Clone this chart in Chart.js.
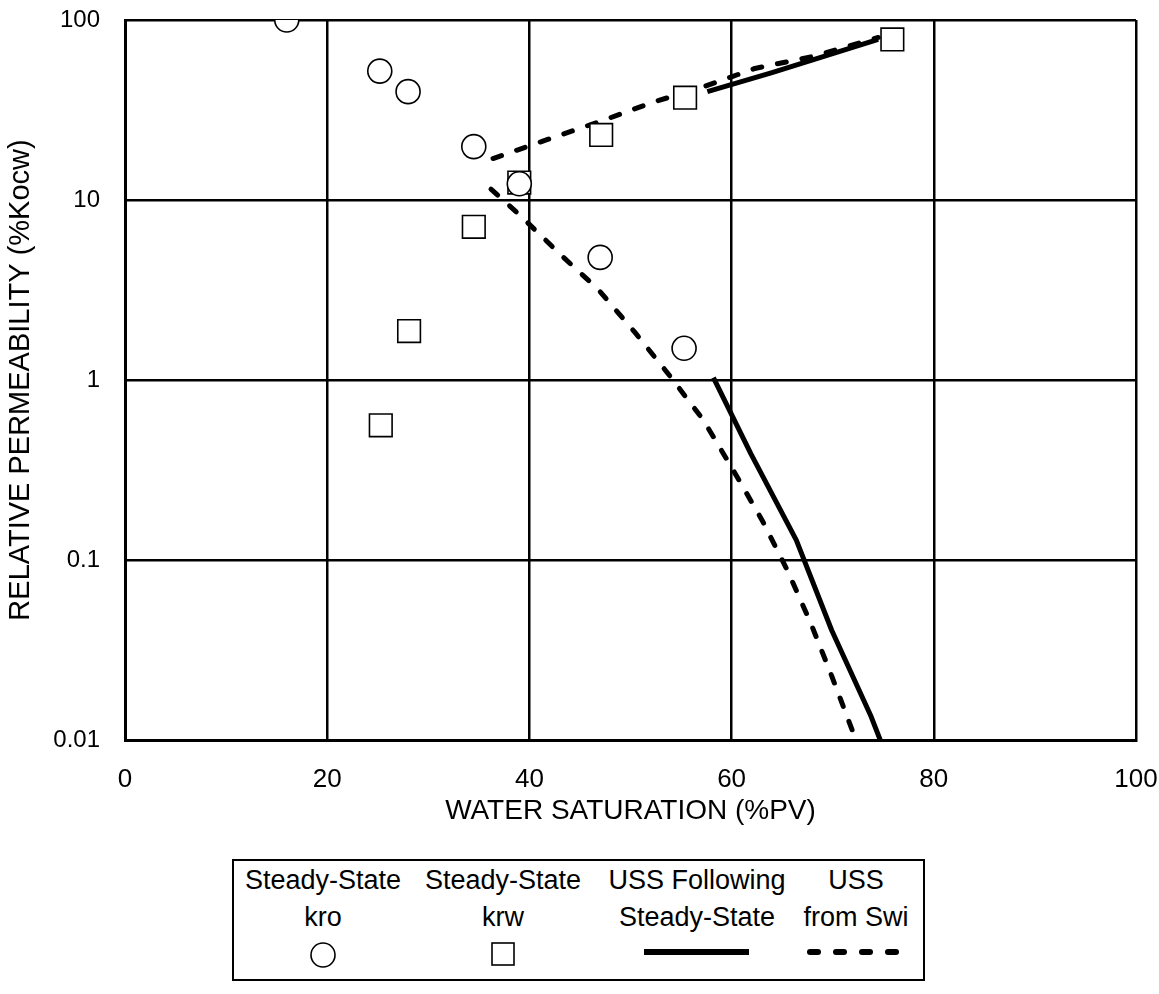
<!DOCTYPE html>
<html>
<head>
<meta charset="utf-8">
<title>Relative Permeability</title>
<script src="https://cdn.jsdelivr.net/npm/chart.js@4.4.1/dist/chart.umd.min.js"></script>
<style>
  html, body { margin: 0; padding: 0; background: #fff; }
  #wrap { position: relative; width: 1159px; height: 994px; font-family: "Liberation Sans", Arial, sans-serif; color: #000; }
  #chartBox { position: absolute; left: 0; top: 0; width: 1159px; height: 840px; }
  #legendBox { position: absolute; left: 232px; top: 859px; width: 693px; height: 122px; border: 2px solid #000; box-sizing: border-box; }
  .lg { position: absolute; width: 200px; text-align: center; font-size: 27px; line-height: 32px; white-space: nowrap; }
  .sym { position: absolute; }
</style>
</head>
<body>
<div id="wrap">
  <div id="chartBox"><canvas id="relPermChart" width="1159" height="840"></canvas></div>
  <div id="legendBox"></div>
  <div id="legendItems"></div>
</div>
<script>
// axis ticks
const xTicks = [0, 20, 40, 60, 80, 100];
const yTicks = [0.01, 0.1, 1, 10, 100];

// steady-state measurements (water saturation %PV, rel. perm %Kocw)
const kroSw = [16, 25.2, 28, 34.5, 39, 47, 55.3];
const kroSS = [100, 52, 40, 19.8, 12.3, 4.8, 1.5];
const krwSw = [25.3, 28.1, 34.5, 39, 47.1, 55.4, 75.9];
const krwSS = [0.56, 1.87, 7.1, 12.5, 23, 37, 78];

// unsteady-state following steady-state (solid)
const ussFollowKrwSw = [57.6, 64.0, 74.5];
const ussFollowKrw = [40, 51, 78];
const ussFollowKroSw = [58.2, 61.9, 66.4, 69.9, 73.8, 74.7];
const ussFollowKro = [1.03, 0.39, 0.129, 0.0407, 0.0135, 0.01];

// unsteady-state from Swi (dashed)
const ussSwiKrwSw = [36.4, 41.8, 47.3, 52.2, 57.3, 62.3, 68.2, 74.5];
const ussSwiKrw = [17, 21.7, 27.7, 34.9, 42.7, 53.8, 63, 80];
const ussSwiKroSw = [36.2, 38.9, 43.2, 46.8, 50.4, 53.8, 57.2, 60.1, 63.0, 65.5, 67.8, 69.9, 72.3];
const ussSwiKro = [11.5, 8.4, 4.9, 3.19, 1.85, 1.07, 0.60, 0.32, 0.167, 0.088, 0.045, 0.0227, 0.01];

const FONT = '"Liberation Sans", Arial, sans-serif';

function pairs(xs, ys) {
  return xs.map((x, i) => ({ x: x, y: ys[i] }));
}

function lineSet(label, xs, ys, dashed) {
  return {
    label: label,
    data: pairs(xs, ys),
    showLine: true,
    borderColor: '#000',
    borderWidth: 5,
    borderDash: dashed ? [9, 16] : [],
    borderCapStyle: dashed ? 'round' : 'butt',
    borderJoinStyle: 'round',
    pointRadius: 0,
    tension: 0,
    order: 3
  };
}

// drop the label overhang padding so the plot box sits where we want it
function noOverhang(scale) {
  scale.paddingTop = 0;
  scale.paddingBottom = 0;
  scale.paddingLeft = 0;
  scale.paddingRight = 0;
}

new Chart(document.getElementById('relPermChart'), {
  type: 'scatter',
  data: {
    datasets: [
      {
        label: 'Steady-State kro',
        data: pairs(kroSw, kroSS),
        pointStyle: 'circle',
        pointRadius: 12,
        pointBorderWidth: 1.6,
        pointBorderColor: '#000',
        pointBackgroundColor: '#fff',
        order: 1
      },
      {
        label: 'Steady-State krw',
        data: pairs(krwSw, krwSS),
        pointStyle: 'rect',
        pointRadius: 16,
        pointBorderWidth: 1.6,
        pointBorderColor: '#000',
        pointBackgroundColor: '#fff',
        order: 2
      },
      lineSet('USS Following Steady-State', ussFollowKrwSw, ussFollowKrw, false),
      lineSet('USS Following Steady-State', ussFollowKroSw, ussFollowKro, false),
      lineSet('USS from Swi', ussSwiKrwSw, ussSwiKrw, true),
      lineSet('USS from Swi', ussSwiKroSw, ussSwiKro, true)
    ]
  },
  options: {
    responsive: false,
    animation: false,
    devicePixelRatio: 1,
    layout: { padding: { left: 4, top: 20, right: 23, bottom: 0 } },
    plugins: {
      legend: { display: false },
      tooltip: { enabled: false }
    },
    scales: {
      x: {
        type: 'linear',
        min: 0,
        max: 100,
        afterBuildTicks: (scale) => { scale.ticks = xTicks.map(v => ({ value: v })); },
        afterFit: (scale) => { scale.height = 100; noOverhang(scale); },
        grid: { color: '#000', lineWidth: 2.5, drawTicks: false },
        border: { color: '#000', width: 3 },
        ticks: { color: '#000', padding: 24, font: { family: FONT, size: 26 }, maxRotation: 0 },
        title: {
          display: true,
          text: 'WATER SATURATION (%PV)',
          color: '#000',
          font: { family: FONT, size: 28 },
          padding: { top: 0, bottom: 12 }
        }
      },
      y: {
        type: 'logarithmic',
        min: 0.01,
        max: 100,
        afterBuildTicks: (scale) => { scale.ticks = yTicks.map(v => ({ value: v })); },
        afterFit: (scale) => { scale.width = 121; noOverhang(scale); },
        grid: { color: '#000', lineWidth: 2.5, drawTicks: false },
        border: { color: '#000', width: 3 },
        ticks: {
          color: '#000',
          padding: 25,
          font: { family: FONT, size: 24 },
          callback: (v) => String(v)
        },
        title: {
          display: true,
          text: 'RELATIVE PERMEABILITY (%Kocw)',
          color: '#000',
          font: { family: FONT, size: 29 },
          padding: { top: 0, bottom: 0 }
        }
      }
    }
  }
});

// legend (columns of text with their marker underneath)
const legendCols = [
  { cx: 323, lines: ['Steady-State', 'kro'], sym: 'circle' },
  { cx: 503, lines: ['Steady-State', 'krw'], sym: 'square' },
  { cx: 697, lines: ['USS Following', 'Steady-State'], sym: 'solid' },
  { cx: 856, lines: ['USS', 'from Swi'], sym: 'dash' }
];

const holder = document.getElementById('legendItems');
legendCols.forEach(col => {
  col.lines.forEach((txt, i) => {
    const d = document.createElement('div');
    d.className = 'lg';
    d.style.left = (col.cx - 100) + 'px';
    d.style.top = (864 + i * 37) + 'px';
    d.textContent = txt;
    holder.appendChild(d);
  });
  const ns = 'http://www.w3.org/2000/svg';
  const svg = document.createElementNS(ns, 'svg');
  svg.setAttribute('width', '120');
  svg.setAttribute('height', '34');
  svg.setAttribute('class', 'sym');
  svg.style.left = (col.cx - 60) + 'px';
  svg.style.top = '937px';
  let el;
  if (col.sym === 'circle') {
    el = document.createElementNS(ns, 'circle');
    el.setAttribute('cx', '60'); el.setAttribute('cy', '18'); el.setAttribute('r', '12');
    el.setAttribute('fill', '#fff'); el.setAttribute('stroke', '#000'); el.setAttribute('stroke-width', '1.6');
  } else if (col.sym === 'square') {
    el = document.createElementNS(ns, 'rect');
    el.setAttribute('x', '49'); el.setAttribute('y', '6'); el.setAttribute('width', '22'); el.setAttribute('height', '22');
    el.setAttribute('fill', '#fff'); el.setAttribute('stroke', '#000'); el.setAttribute('stroke-width', '1.6');
  } else {
    el = document.createElementNS(ns, 'line');
    el.setAttribute('y1', '15'); el.setAttribute('y2', '15');
    el.setAttribute('stroke', '#000'); el.setAttribute('stroke-width', '6');
    if (col.sym === 'solid') {
      el.setAttribute('x1', '7'); el.setAttribute('x2', '112');
    } else {
      el.setAttribute('x1', '14'); el.setAttribute('x2', '106');
      el.setAttribute('stroke-dasharray', '8 18');
      el.setAttribute('stroke-linecap', 'round');
    }
  }
  svg.appendChild(el);
  holder.appendChild(svg);
});
</script>
</body>
</html>
